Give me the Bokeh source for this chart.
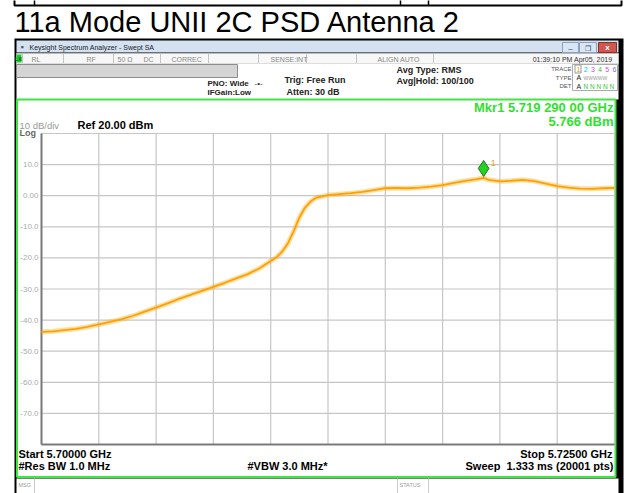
from bokeh.plotting import figure
from bokeh.models import Range1d
from bokeh.core.properties import value
from bokeh.embed import file_html
from bokeh.resources import INLINE

# ---------------- data ----------------
freq_mhz = [5700.0, 5700.5, 5701.0, 5701.5, 5702.0, 5702.5, 5703.0, 5703.5, 5704.0, 5704.5,
            5705.0, 5705.5, 5706.0, 5706.5, 5707.0, 5707.5, 5708.0, 5708.5, 5709.0, 5709.5,
            5710.0, 5710.25, 5710.5, 5710.75, 5711.0, 5711.25, 5711.5, 5711.75, 5712.0, 5712.5,
            5713.0, 5713.5, 5714.0, 5714.5, 5715.0, 5715.5, 5716.0, 5716.5, 5717.0, 5717.5,
            5718.0, 5718.5, 5719.0, 5719.29, 5719.5, 5720.0, 5720.5, 5721.0, 5721.5, 5722.0,
            5722.5, 5723.0, 5723.5, 5724.0, 5724.5, 5725.0]
level_dbm = [-43.8, -43.6, -43.2, -42.8, -42.2, -41.4, -40.6, -39.7, -38.6, -37.3,
             -36.0, -34.6, -33.2, -31.9, -30.6, -29.3, -28.0, -26.6, -25.2, -23.4,
             -21.0, -19.8, -18.0, -15.3, -11.5, -7.0, -3.8, -1.8, -0.6, 0.2,
             0.5, 0.8, 1.2, 1.8, 2.4, 2.5, 2.4, 2.6, 2.9, 3.4,
             4.1, 4.8, 5.3, 5.766, 5.1, 4.6, 4.8, 5.1, 4.7, 3.9,
             3.1, 2.6, 2.3, 2.2, 2.4, 2.5]
start_freq_ghz = 5.700
stop_freq_ghz = 5.725
ref_level_dbm = 20.0
db_per_div = 10.0
n_div = 10
y_tick_values = [10, 0, -10, -20, -30, -40, -50, -60, -70]
y_tick_labels = ["10.0", "0.00", "-10.0", "-20.0", "-30.0", "-40.0", "-50.0", "-60.0", "-70.0"]
marker_freq_ghz = 5.71929
marker_level_dbm = 5.766

# ---------------- layout (reference pixel coordinates) ----------------
PX0, PX1 = 0, 629
PY0, PY1 = 0, 493
GX0, GX1 = 41, 614
GY0, GY1 = 133, 444

p = figure(width=PX1 - PX0, height=PY1 - PY0,
           x_range=Range1d(PX0, PX1), y_range=Range1d(PY1, PY0),
           x_axis_type=None, y_axis_type=None, toolbar_location=None,
           output_backend="svg", min_border=0)
p.grid.visible = False
p.outline_line_color = None
p.background_fill_color = "white"
p.border_fill_color = "white"

bottom_dbm = ref_level_dbm - n_div * db_per_div
fpp = (stop_freq_ghz - start_freq_ghz) / (GX1 - GX0)
dpp = (ref_level_dbm - bottom_dbm) / (GY1 - GY0)
p.extra_x_ranges = {"f": Range1d(start_freq_ghz - (GX0 - PX0) * fpp, stop_freq_ghz + (PX1 - GX1) * fpp)}
p.extra_y_ranges = {"db": Range1d(bottom_dbm - (PY1 - GY1) * dpp, ref_level_dbm + (GY0 - PY0) * dpp)}

FONT = "Liberation Sans"
NB = "\u00a0"


def txt(x, y, s, size, color="black", bold=False, align="left", baseline="middle", **kw):
    p.text(x=[x], y=[y], text=[s], text_font=value(FONT), text_font_size=value(f"{size}px"),
           text_font_style="bold" if bold else "normal", text_color=color,
           text_align=align, text_baseline=baseline, **kw)


def box(l, r, t, b, fill=None, line=None, lw=1):
    p.quad(left=[l], right=[r], top=[t], bottom=[b], fill_color=fill,
           line_color=line, line_width=lw)


# top table remnant
box(14, 621, -4, 5, line="black", lw=2)
for sx in [34, 400, 428]:
    p.segment(x0=[sx], y0=[-4], x1=[sx], y1=[5], line_color="black", line_width=1.5)

# title
txt(14, 21, "11a Mode UNII 2C PSD Antenna 2", 29, baseline="middle")

# window frame
box(14, 623, 38, 520, fill="black")
box(16, 618, 40, 52, fill="#d3e1f1")
txt(20, 46.5, "▪", 9, color="#555")
txt(29, 46.5, "Keysight Spectrum Analyzer - Swept SA", 7, color="#222")
box(562, 578, 42, 52, fill="#dbe6f4", line="#8aa2c0")
txt(570, 47.5, "–", 8, color="#345", align="center")
box(579, 596, 42, 52, fill="#dbe6f4", line="#8aa2c0")
txt(587.5, 47.5, "❐", 7, color="#345", align="center")
box(598, 616, 42, 52, fill="#d0574f", line="#8a2e2a")
txt(607, 47, "x", 8, color="white", bold=True, align="center")

# status row
box(16, 618, 53, 63, fill="#f7f7f7", line="#bbbbbb")
box(16, 21, 54, 62, fill="#22cc22")
txt(18.5, 58, "LXI", 5, color="#063", align="center", bold=True)
for sx in [22, 63, 113, 160, 208, 258, 306, 356, 433]:
    p.segment(x0=[sx], y0=[53], x1=[sx], y1=[63], line_color="#c4c4c4")
for sx, s in [(31, "RL"), (86, "RF"), (117, "50 Ω"), (143, "DC"), (171, "CORREC"),
              (270, "SENSE:INT"), (377, "ALIGN AUTO")]:
    txt(sx, 58.5, s, 7, color="#888")
txt(612, 58.5, "01:39:10 PM Apr05, 2019", 7, color="#333", align="right")

# info area
box(16, 618, 63, 99, fill="white")
box(16, 237, 64, 77, fill="#d4d4d4", line="#8c8c8c")
txt(207, 83, "PNO: Wide", 8, color="#222", bold=True)
txt(207, 92, "IFGain:Low", 8, color="#222", bold=True)
txt(254, 83, "-•-", 8, color="#333")
txt(284, 79, "Trig: Free Run", 9, bold=True, color="#222")
txt(286, 91, "Atten: 30 dB", 9, bold=True, color="#222")
txt(396, 69, "Avg Type: RMS", 9, bold=True, color="#222")
txt(396, 80, "Avg|Hold: 100/100", 9, bold=True, color="#222")
txt(571, 68, "TRACE", 6, color="#555", align="right")
txt(571, 77, "TYPE", 6, color="#555", align="right")
txt(571, 85.5, "DET", 6, color="#555", align="right")
box(572, 617, 64, 90, line="#aaaaaa")
for i, c in enumerate(["#e8a000", "#00c8e0", "#e040e0", "#2ecc2e", "#d050e0", "#7a6cf5"]):
    txt(576 + i * 7.2, 68.5, str(i + 1), 7, color=c)
box(574.5, 580.5, 64.5, 72.5, line="#999999")
txt(576, 77, "A", 7, color="#222")
txt(583, 77, "WWWWW", 5, color="#999")
txt(576, 85.5, "A", 7, color="#222")
txt(583, 85.5, "N N N N N", 6.5, color="#2ecc2e")

# green display frame
box(16.5, 615, 99, 476.5, fill="white", line="#3be83b", lw=2)
txt(613, 107, "Mkr1 5.719 290 00 GHz", 13, color="#2fe02f", bold=True, align="right")
txt(613, 121, "5.766 dBm", 13, color="#2fe02f", bold=True, align="right")
txt(19, 124.5, "10 dB/div", 9.5, color="#999")
txt(19, 132, "Log", 9, color="#666", bold=True)
txt(77, 124, "Ref 20.00 dBm", 11, bold=True)

# graticule
gx = [start_freq_ghz + k * (stop_freq_ghz - start_freq_ghz) / n_div for k in range(n_div + 1)]
gy = [ref_level_dbm - k * db_per_div for k in range(n_div + 1)]
p.segment(x0=gx, y0=[bottom_dbm] * len(gx), x1=gx, y1=[ref_level_dbm] * len(gx),
          x_range_name="f", y_range_name="db", line_color="#c6c6c6", line_width=1.2)
p.segment(x0=[start_freq_ghz] * len(gy), y0=gy, x1=[stop_freq_ghz] * len(gy), y1=gy,
          x_range_name="f", y_range_name="db", line_color="#c6c6c6", line_width=1.2)
p.segment(x0=[start_freq_ghz, start_freq_ghz], y0=[bottom_dbm, bottom_dbm],
          x1=[start_freq_ghz, stop_freq_ghz], y1=[ref_level_dbm, bottom_dbm],
          x_range_name="f", y_range_name="db", line_color="#7a7a7a", line_width=2)
p.text(x=[start_freq_ghz] * len(y_tick_values), y=y_tick_values, text=y_tick_labels,
       x_offset=-3, x_range_name="f", y_range_name="db", text_font=value(FONT),
       text_font_size=value("8px"), text_color="#aaaaaa", text_align="right",
       text_baseline="middle")

# trace
freq_ghz = [f / 1000.0 for f in freq_mhz]
p.line(freq_ghz, level_dbm, x_range_name="f", y_range_name="db",
       line_color="#ffa500", line_width=5, line_alpha=0.35)
p.line(freq_ghz, level_dbm, x_range_name="f", y_range_name="db",
       line_color="#ff9f00", line_width=1.8)

# marker
p.scatter(x=[marker_freq_ghz], y=[marker_level_dbm + 9.3 * dpp], marker="diamond", size=16,
          x_range_name="f", y_range_name="db", fill_color="#22d322", line_color="#2a6a2a",
          line_width=1)
p.text(x=[marker_freq_ghz], y=[marker_level_dbm], text=["1"], x_offset=7, y_offset=-15,
       x_range_name="f", y_range_name="db", text_font=value(FONT),
       text_font_size=value("9px"), text_color="#f0a020", text_baseline="middle")

# bottom annotations
txt(18, 453, "Start 5.70000 GHz", 11, bold=True)
txt(18, 465, "#Res BW 1.0 MHz", 11, bold=True)
txt(247, 465, "#VBW 3.0 MHz*", 11, bold=True)
txt(612, 453, "Stop 5.72500 GHz", 11, bold=True, align="right")
txt(613, 465, "Sweep" + NB + NB + "1.333 ms (20001 pts)", 11, bold=True, align="right")

# MSG row
box(16, 618, 478, 520, fill="white")
for sx in [34, 397, 428]:
    p.segment(x0=[sx], y0=[478], x1=[sx], y1=[520], line_color="#cccccc")
txt(18, 484, "MSG", 5.5, color="#999")
txt(399, 484, "STATUS", 5.5, color="#999")

open("out.html", "w").write(file_html(p, INLINE))
